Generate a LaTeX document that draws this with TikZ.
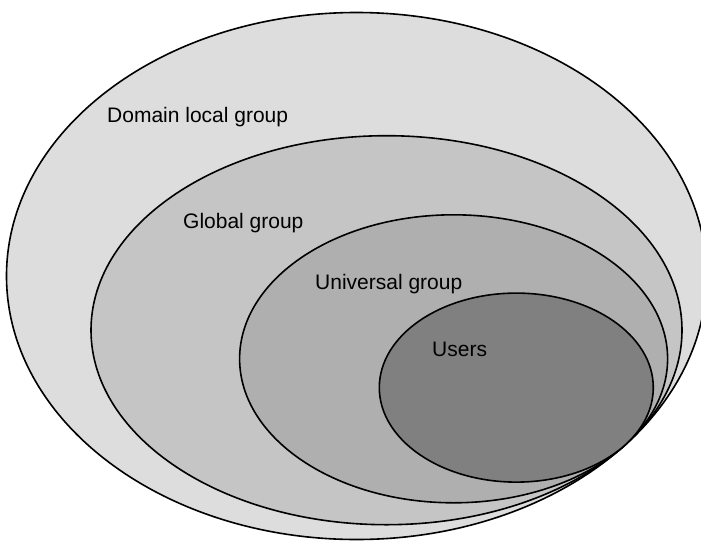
\documentclass[tikz,border=0pt]{standalone}
\usepackage{fontspec}
\setmainfont{Liberation Sans}
\definecolor{domainfill}{gray}{0.867}
\definecolor{globalfill}{gray}{0.773}
\definecolor{universalfill}{gray}{0.686}
\definecolor{usersfill}{gray}{0.502}
\begin{document}
\begin{tikzpicture}[x=1pt,y=-1pt,
  ring/.style={draw=black,line width=1.6pt},
  grouplabel/.style={anchor=base west,inner sep=0pt,text=black,
    font=\fontsize{21}{25}\selectfont}]
\useasboundingbox (0,0) rectangle (701,541);
\fill[white] (0,0) rectangle (701,541);

% nested groups, all touching at the lower right
\path[ring,fill=domainfill]    (356.5,276.0) ellipse [x radius=350pt,   y radius=263.5pt];
\path[ring,fill=globalfill]    (386.5,330.2) ellipse [x radius=295.5pt, y radius=194.5pt];
\path[ring,fill=universalfill] (453.6,358.8) ellipse [x radius=214pt,   y radius=144pt];
\path[ring,fill=usersfill]     (516.3,387.6) ellipse [x radius=137pt,   y radius=94.5pt];

% labels
\node[grouplabel] (domain)    at (107,122) {Domain local group};
\node[grouplabel] (global)    at (183,228) {Global group};
\node[grouplabel] (universal) at (315,289) {Universal group};
\node[grouplabel] (users)     at (432,356) {Users};
\end{tikzpicture}
\end{document}
